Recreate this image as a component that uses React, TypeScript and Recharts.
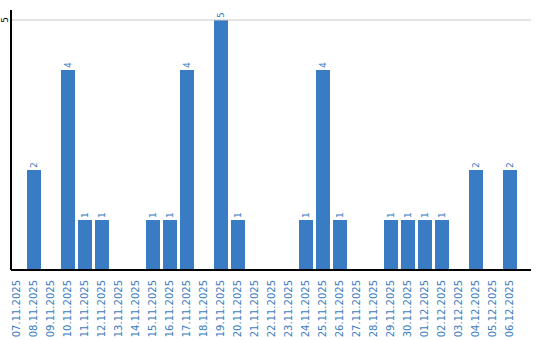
import React from "react";
import { BarChart, Bar, XAxis, YAxis, ReferenceLine, LabelList } from "recharts";

const dates = [
  "07.11.2025", "08.11.2025", "09.11.2025", "10.11.2025", "11.11.2025",
  "12.11.2025", "13.11.2025", "14.11.2025", "15.11.2025", "16.11.2025",
  "17.11.2025", "18.11.2025", "19.11.2025", "20.11.2025", "21.11.2025",
  "22.11.2025", "23.11.2025", "24.11.2025", "25.11.2025", "26.11.2025",
  "27.11.2025", "28.11.2025", "29.11.2025", "30.11.2025", "01.12.2025",
  "02.12.2025", "03.12.2025", "04.12.2025", "05.12.2025", "06.12.2025",
];
const counts = [
  0, 2, 0, 4, 1, 1, 0, 0, 1, 1, 4, 0, 5, 1, 0,
  0, 0, 1, 4, 1, 0, 0, 1, 1, 1, 1, 0, 2, 0, 2,
];
const yTicks = [5];

const data = dates.map((d, i) => ({ date: d, count: counts[i] }));

const BLUE = "#3a7cc3";
const FONT = "'DejaVu Sans', Verdana, sans-serif";

function DateTick({ x, y, payload }: any) {
  return (
    <text
      transform={`translate(${x},${y + 2}) rotate(-90)`}
      textAnchor="end"
      dominantBaseline="central"
      fill={BLUE}
      fontSize={10}
      fontFamily={FONT}
    >
      {payload.value}
    </text>
  );
}

function ValueTick({ y, payload }: any) {
  return (
    <text
      transform={`translate(5,${y}) rotate(-90)`}
      textAnchor="middle"
      dominantBaseline="central"
      fill="#000"
      fontSize={9}
      fontFamily={FONT}
    >
      {payload.value}
    </text>
  );
}

function BarLabel(props: any) {
  const { x, y, width, value } = props;
  if (!value) return null;
  return (
    <text
      transform={`translate(${x + width / 2},${y - 2}) rotate(-90)`}
      textAnchor="start"
      dominantBaseline="central"
      fill={BLUE}
      fontSize={9}
      fontFamily={FONT}
    >
      {value}
    </text>
  );
}

export default function App() {
  return (
    <div style={{ position: "absolute", left: 0, top: 0, background: "#fff" }}>
      <BarChart
        width={540}
        height={340}
        data={data}
        margin={{ top: 10, right: 9, left: 0, bottom: 0 }}
      >
        <ReferenceLine y={yTicks[0]} stroke="#c8c8c8" />
        <XAxis
          dataKey="date"
          interval={0}
          height={70}
          padding={{ left: -3, right: 13 }}
          axisLine={{ stroke: "#000", strokeWidth: 2 }}
          tickLine={false}
          tick={<DateTick />}
        />
        <YAxis
          width={11}
          domain={[0, 5.2]}
          ticks={yTicks}
          axisLine={{ stroke: "#000", strokeWidth: 2 }}
          tickLine={false}
          tick={<ValueTick />}
        />
        <Bar dataKey="count" fill={BLUE} barSize={14} isAnimationActive={false}>
          <LabelList dataKey="count" content={<BarLabel />} />
        </Bar>
      </BarChart>
    </div>
  );
}
